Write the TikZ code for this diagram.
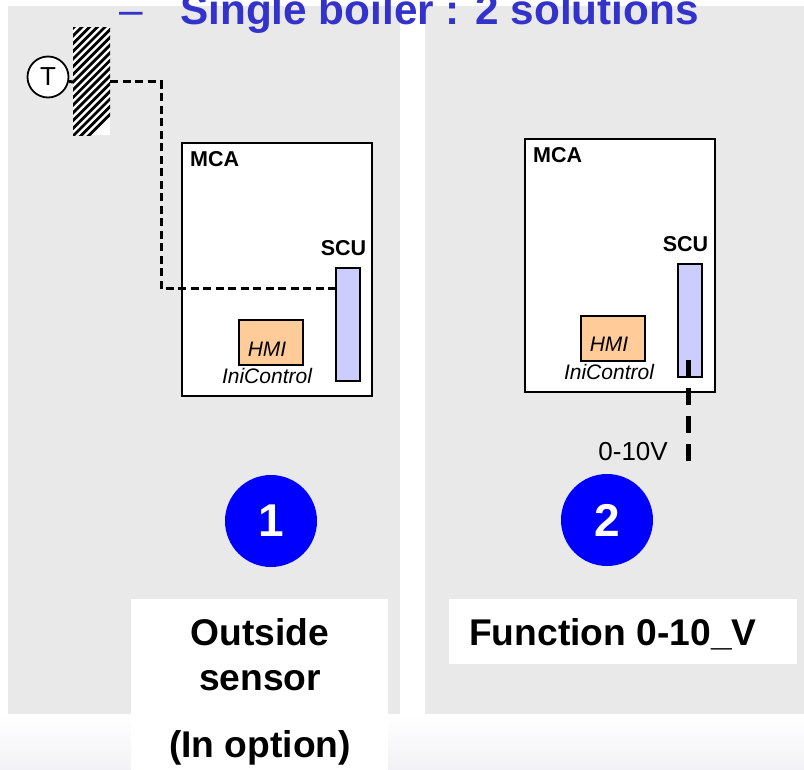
\documentclass[tikz,border=0pt]{standalone}
\usepackage{fontspec}
\usetikzlibrary{calc}
\setmainfont{Liberation Sans}
\definecolor{panelgray}{HTML}{E9E9E9}
\definecolor{titleblue}{HTML}{3333CC}
\definecolor{scufill}{HTML}{CCCCFF}
\definecolor{hmifill}{HTML}{FFCC99}
\definecolor{bandgray}{HTML}{F2F2F6}
\tikzset{
  panel/.style={fill=panelgray, draw=none, inner sep=0pt, anchor=north west},
  label box/.style={fill=white, draw=none, inner sep=0pt, anchor=north west},
  mca box/.style={draw, fill=white, line width=1.8pt, inner sep=0pt, outer sep=0pt, anchor=north west, minimum width=190, minimum height=253},
  scu box/.style={draw, fill=scufill, line width=1.8pt, inner sep=0pt, outer sep=0pt, anchor=north west, minimum width=24, minimum height=113},
  hmi box/.style={draw, fill=hmifill, line width=1.8pt, inner sep=0pt, outer sep=0pt, anchor=north west, minimum width=64, minimum height=45},
  small bold/.style={font=\fontsize{21.5}{23}\selectfont\bfseries, inner sep=0pt},
  small italic/.style={font=\fontsize{21}{23}\selectfont\itshape, inner sep=0pt},
  big bold/.style={font=\fontsize{37.2}{40}\selectfont\bfseries, inner sep=0pt},
  number node/.style={circle, fill=blue, text=white, minimum size=92, inner sep=0pt, font=\fontsize{46}{48}\selectfont\bfseries},
  signal/.style={line width=3pt, dash pattern=on 8pt off 4.5pt},
}
\begin{document}
\begin{tikzpicture}[x=1pt, y=-1pt]
    \clip (0,0) rectangle (804,770);
    \useasboundingbox (0,0) rectangle (804,770);

    % Background
    \shade[top color=white, bottom color=bandgray] (0,714) rectangle (804,770);
    \node[panel, minimum width=392, minimum height=708] (leftpanel) at (8,6) {};
    \node[panel, minimum width=379, minimum height=708] (rightpanel) at (425,6) {};

    % Title
    \node[anchor=base west, inner sep=0pt, text=titleblue, font=\fontsize{42.3}{44}\selectfont] (titledash) at (119,25) {–};
    \node[anchor=base west, inner sep=0pt, text=titleblue, font=\fontsize{42.3}{44}\selectfont\bfseries] (title) at (180,25) {Single boiler : 2 solutions};

    % White label boxes
    \node[label box, minimum width=257, minimum height=171] (leftlabel) at (131,599) {};
    \node[label box, minimum width=348, minimum height=65] (rightlabel) at (449,599) {};

    % First solution
    \node[mca box] (MCA1) at (182,143) {};
    \node[small bold, anchor=base west] (MCA1text) at (190,167) {MCA};
    \node[scu box] (SCU1) at (336,268) {};
    \node[small bold, anchor=base] (SCU1text) at (343.5,256) {SCU};
    \node[hmi box] (HMI1) at (239,320) {};
    \node[small italic, anchor=base] (HMI1text) at (267,356) {HMI};
    \node[small italic, anchor=base] (Ini1) at (267,383) {IniControl};

    % Wall and sensor
    \node[draw=none, fill=white, inner sep=0pt, anchor=north west, minimum width=37, minimum height=108, path picture={
        \foreach \i in {0,...,22} {
            \draw[line width=2.8pt] ($(path picture bounding box.south west)+(-4,{20-\i*7.7})$) -- ++(50,-50);
        }
    }] (wall) at (73,27) {};
    \node[circle, draw, fill=white, line width=1.8pt, minimum size=41, inner sep=0pt, font=\fontsize{26}{28}\selectfont] (T) at (48,77) {T};
    \coordinate (wallleft) at (73,82);
    \coordinate (wallright) at (110,82);
    \coordinate (sculeft) at (336,289);
    \draw[line width=3pt] (T.-12) -- (wallleft);
    \draw[signal] (wallright) -| (161,289) -- (sculeft);

    % Second solution
    \node[mca box] (MCA2) at (525,139) {};
    \node[small bold, anchor=base west] (MCA2text) at (533,163) {MCA};
    \node[scu box] (SCU2) at (678,264) {};
    \node[small bold, anchor=base] (SCU2text) at (685.5,252) {SCU};
    \node[hmi box] (HMI2) at (581,316) {};
    \node[small italic, anchor=base] (HMI2text) at (609,352) {HMI};
    \node[small italic, anchor=base] (Ini2) at (609,379) {IniControl};
    \coordinate (signalstart) at (688.5,360);
    \coordinate (signalend) at (688.5,461);
    \draw[signal, line width=4.5pt, dash pattern=on 17pt off 11pt] (signalstart) -- (signalend);
    \node[anchor=base east, inner sep=0pt, font=\fontsize{26}{28}\selectfont] (volt) at (668,460) {0-10V};

    % Numbers
    \node[number node] (one) at (271,521) {1};
    \node[number node] (two) at (607,520) {2};

    % Labels
    \node[big bold, anchor=base] (outside) at (260,645) {Outside};
    \node[big bold, anchor=base] (sensor) at (260,690) {sensor};
    \node[big bold, anchor=base] (option) at (260,757) {(In option)};
    \node[big bold, anchor=base west] (function) at (469,645) {Function 0-10\_V};

\end{tikzpicture}
\end{document}
